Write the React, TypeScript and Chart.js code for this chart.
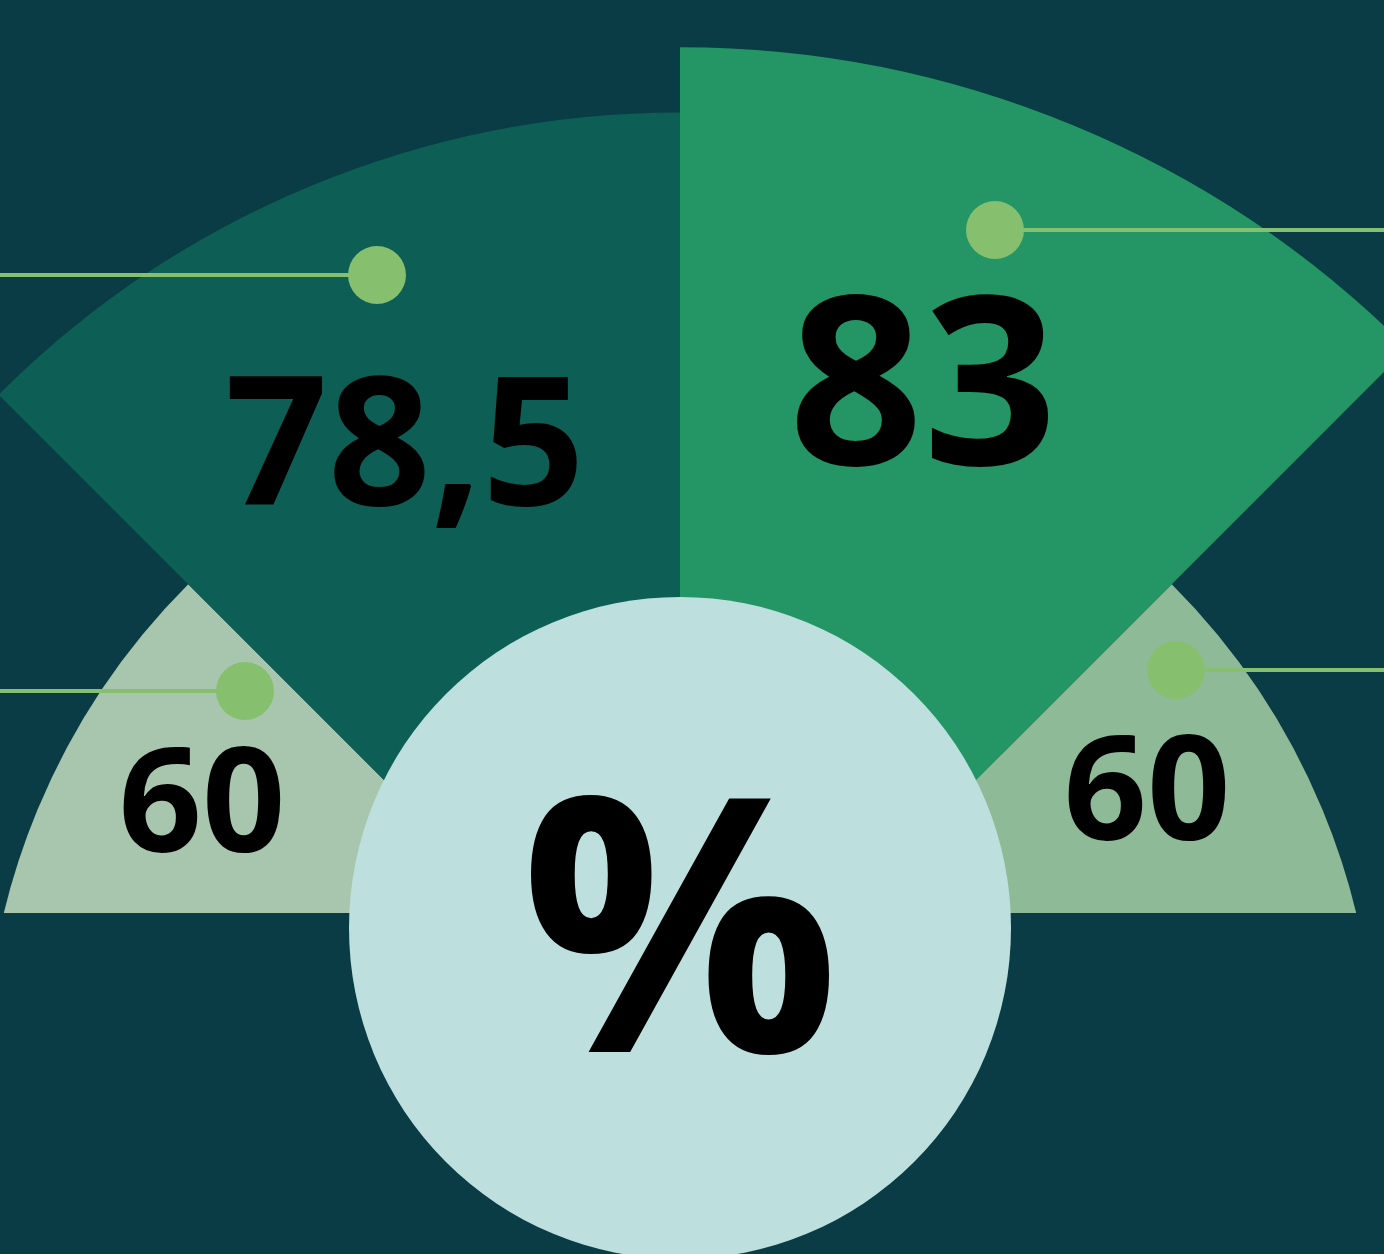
import React, { useEffect, useRef } from "react";
import { Chart, registerables } from "chart.js";

Chart.register(...registerables);

// ---- data ----
const segments = ["Lower left", "Upper left", "Upper right", "Lower right"];
const values = [60, 78.5, 83, 60];
const sectorColors = ["#a8c6ae", "#0d5e55", "#249565", "#8fba98"];
const centerSymbol = "%";

// ---- layout ----
const PAGE_W = 1384;
const PAGE_H = 1254;
const CANVAS = 2550;
const POLE_X = 680; // page position of the polar centre
const POLE_Y = 1076;
const BG = "#0a3c45";
const CLIP_REL_Y = -163; // fan is cut horizontally here (relative to pole)
const labelRel = [
  [-478, -224],
  [-275, -571],
  [243, -611],
  [467, -236],
];
const labelSize = [146, 180, 235, 146];
const dotRel = [
  [-435, -385],
  [-303, -801],
  [315, -846],
  [496, -406],
];
const dotSide = [-1, -1, 1, 1];
const circleRel = [0, -148];
const circleR = 331;
const FONT = `"Open Sans", "Noto Sans", sans-serif`;

const fmt = (v: number) => String(v).replace(".", ",");

const decorPlugin = {
  id: "decor",
  beforeDatasetsDraw(chart: any) {
    const s = chart.scales.r;
    const ctx = chart.ctx;
    ctx.save();
    ctx.beginPath();
    ctx.rect(0, 0, chart.width, s.yCenter + CLIP_REL_Y);
    ctx.clip();
  },
  afterDatasetsDraw(chart: any) {
    const ctx = chart.ctx;
    ctx.restore();
    const s = chart.scales.r;
    const cx = s.xCenter;
    const cy = s.yCenter;
    const leftEdge = cx - POLE_X;
    const rightEdge = cx - POLE_X + PAGE_W;

    // leader lines and dots
    ctx.save();
    ctx.strokeStyle = "#86c06e";
    ctx.fillStyle = "#86c06e";
    ctx.lineWidth = 4;
    dotRel.forEach(([dx, dy], i) => {
      const x = cx + dx;
      const y = cy + dy;
      ctx.beginPath();
      ctx.moveTo(x, y);
      ctx.lineTo(dotSide[i] < 0 ? leftEdge : rightEdge, y);
      ctx.stroke();
      ctx.beginPath();
      ctx.arc(x, y, 29, 0, Math.PI * 2);
      ctx.fill();
    });
    ctx.restore();

    // value labels
    ctx.save();
    ctx.fillStyle = "#000000";
    ctx.textAlign = "center";
    ctx.textBaseline = "alphabetic";
    values.forEach((v, i) => {
      ctx.font = `bold ${labelSize[i]}px ${FONT}`;
      ctx.fillText(fmt(v), cx + labelRel[i][0], cy + labelRel[i][1]);
    });
    ctx.restore();

    // centre disc
    ctx.save();
    ctx.fillStyle = "#bde0df";
    ctx.beginPath();
    ctx.arc(cx + circleRel[0], cy + circleRel[1], circleR, 0, Math.PI * 2);
    ctx.fill();
    ctx.fillStyle = "#000000";
    ctx.textAlign = "center";
    ctx.textBaseline = "alphabetic";
    ctx.font = `bold 355px ${FONT}`;
    ctx.fillText(centerSymbol, cx, cy - 24);
    ctx.restore();
  },
};

export default function App() {
  const ref = useRef<HTMLCanvasElement | null>(null);
  useEffect(() => {
    if (!ref.current) return;
    const chart = new Chart(ref.current, {
      type: "polarArea",
      data: {
        labels: segments,
        datasets: [
          {
            data: values,
            backgroundColor: sectorColors,
            borderWidth: 0,
            angle: 45,
          } as any,
        ],
      },
      options: {
        responsive: false,
        animation: false,
        devicePixelRatio: 1,
        layout: { padding: 0 },
        plugins: { legend: { display: false }, tooltip: { enabled: false } },
        scales: {
          r: {
            display: false,
            min: 12,
            max: 100,
            startAngle: -90,
          },
        },
      },
      plugins: [decorPlugin],
    });
    return () => chart.destroy();
  }, []);

  return (
    <div
      style={{
        position: "fixed",
        left: 0,
        top: 0,
        width: PAGE_W,
        height: PAGE_H,
        overflow: "hidden",
        background: BG,
      }}
    >
      <canvas
        ref={ref}
        width={CANVAS}
        height={CANVAS}
        style={{
          position: "absolute",
          left: POLE_X - CANVAS / 2,
          top: POLE_Y - CANVAS / 2,
          width: CANVAS,
          height: CANVAS,
        }}
      />
    </div>
  );
}
